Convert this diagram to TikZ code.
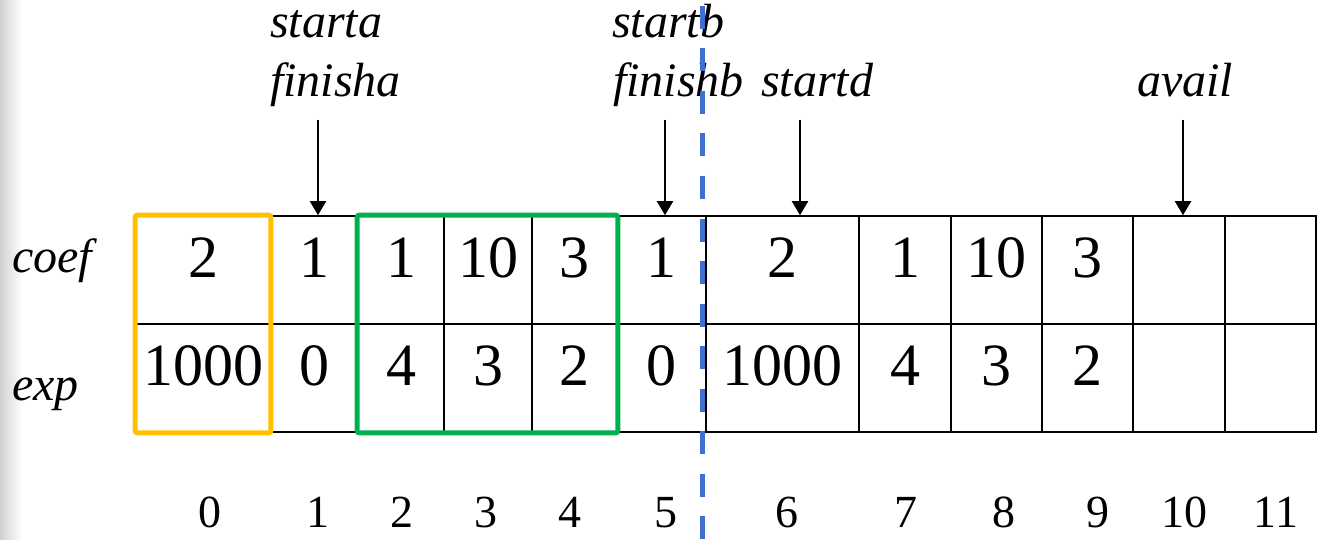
\documentclass[tikz,border=0pt]{standalone}
\usepackage{fontspec}
\setmainfont{Liberation Serif}
\usepackage{xcolor}
\usepackage{tikz}
\usetikzlibrary{arrows.meta, positioning, calc}

\definecolor{boxorange}{HTML}{FFC000}
\definecolor{boxgreen}{HTML}{00B050}
\definecolor{cutblue}{HTML}{3F6FD3}

\tikzset{
    cell/.style={draw, line width=1.6pt, inner sep=0pt, minimum height=108pt,
        text height=56pt, text depth=42pt, font=\fontsize{60}{72}\selectfont},
    rowlabel/.style={anchor=base west, inner sep=0pt, font=\fontsize{48}{58}\selectfont\itshape},
    ptrlabel/.style={anchor=base west, inner sep=0pt, font=\fontsize{48}{58}\selectfont\itshape},
    ptrarrow/.style={line width=2pt, -{Triangle[width=16pt, length=14pt]}},
    idx/.style={anchor=base, inner sep=0pt, font=\fontsize{46}{55}\selectfont},
    hlbox/.style={line width=5pt, rounded corners=2pt},
    divider/.style={draw=cutblue, line width=5pt, dash pattern=on 23pt off 19.5pt}
}

\begin{document}
\begin{tikzpicture}[x=1pt, y=-1pt]
    \useasboundingbox (0,0) rectangle (1330,540);
    \shade[left color=black!18, right color=white] (0,0) rectangle (22,540);

    % Zeilen
    \node[rowlabel] (lcoef) at (12,272) {coef};
    \node[rowlabel] (lexp) at (12,400) {exp};

    % Zellen
    \foreach \i/\l/\r/\cf/\ex in {0/136/270/2/1000, 1/270/358/1/0, 2/358/444/1/4,
        3/444/532/10/3, 4/532/617/3/2, 5/617/706/1/0, 6/706/859/2/1000,
        7/859/951/1/4, 8/951/1042/10/3, 9/1042/1133/3/2, 10/1133/1225/{}/{},
        11/1225/1316/{}/{}} {
        \node[cell, minimum width={(\r-\l)*1pt}] (c\i) at ({(\l+\r)/2},270) {\cf};
        \node[cell, minimum width={(\r-\l)*1pt}] (e\i) at ({(\l+\r)/2},378) {\ex};
    }

    % Indizes
    \foreach \i/\x in {0/210, 1/318, 2/402, 3/486, 4/570, 5/666, 6/787,
        7/906, 8/1004, 9/1098, 10/1184, 11/1276} {
        \node[idx] (n\i) at (\x,527) {\i};
    }

    % Markierungen
    \draw[hlbox, draw=boxorange] (c0.north west) rectangle (e0.south east);
    \draw[hlbox, draw=boxgreen] (c2.north west) rectangle (e4.south east);

    % Zeiger
    \node[ptrlabel] (sa) at (270,38) {starta};
    \node[ptrlabel] (fa) at (270,97) {finisha};
    \node[ptrlabel] (sb) at (612,38) {startb};
    \node[ptrlabel] (fb) at (613,97) {finishb};
    \node[ptrlabel] (sd) at (761,97) {startd};
    \node[ptrlabel] (av) at (1137,97) {avail};

    \coordinate (pa) at (318,120);
    \coordinate (pb) at (665,120);
    \coordinate (pd) at (800,120);
    \coordinate (pv) at (1183,120);
    \draw[ptrarrow] (pa) -- (pa |- c1.north);
    \draw[ptrarrow] (pb) -- (pb |- c5.north);
    \draw[ptrarrow] (pd) -- (pd |- c6.north);
    \draw[ptrarrow] (pv) -- (pv |- c10.north);

    % Trennlinie
    \coordinate (cuttop) at (702,6);
    \coordinate (cutbot) at (702,540);
    \draw[divider] (cuttop) -- (cutbot);
\end{tikzpicture}
\end{document}
